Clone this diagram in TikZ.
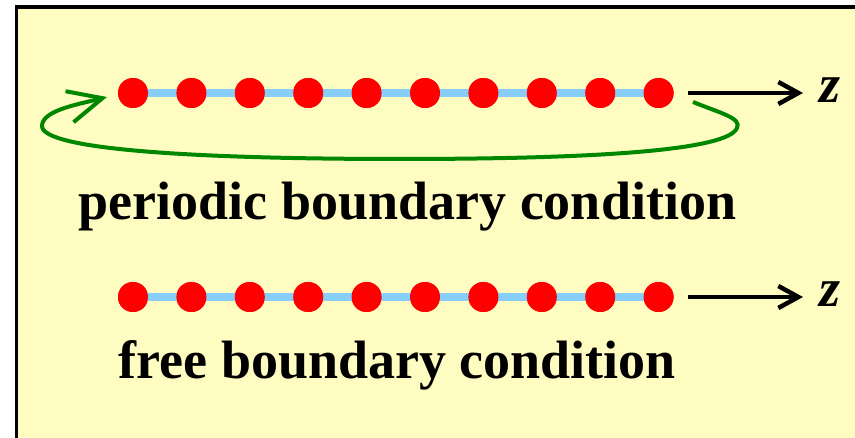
\documentclass[tikz,border=0pt]{standalone}
\usepackage{fontspec}
\setmainfont{Liberation Serif}
\usetikzlibrary{arrows.meta}
\definecolor{paper}{RGB}{255,252,194}
\definecolor{chain}{RGB}{135,206,250}
\definecolor{loopgreen}{RGB}{0,135,0}
\begin{document}
\begin{tikzpicture}[x=1pt,y=-1pt,
  site/.style={circle,fill=red,minimum size=30pt,inner sep=0pt},
  bond/.style={draw=chain,line width=8pt},
  axis/.style={line width=4.5pt,-{Straight Barb[length=20pt,width=22pt]}},
  caption/.style={font=\fontsize{54}{60}\selectfont\bfseries,inner sep=0pt,anchor=base},
  axislabel/.style={font=\fontsize{54}{60}\selectfont\bfseries\itshape,inner sep=0pt,anchor=base west}]
\useasboundingbox (0,0) rectangle (855,438);
% panel background and frame (runs past the right and bottom edges)
\fill[paper] (16.5,7) rectangle (870,450);
\draw[line width=3.5pt] (870,7) -- (16.5,7) -- (16.5,450);

% periodic chain
\foreach \i in {1,...,10}
  \node[site] (t\i) at ({133+58.4*(\i-1)},93) {};
\draw[bond] (t1.center) -- (t10.center);
\foreach \i in {1,...,10}
  \node[site] at (t\i) {};
\coordinate (ta) at (688,93);
\coordinate (tb) at (803,93);
\draw[axis] (ta) -- (tb);
\node[axislabel] (tz) at (819,103) {z};

% wrap-around link from the last site back to the first
\coordinate (lpa) at (693,102);
\coordinate (lpb) at (107,97);
\draw[loopgreen,line width=4pt,-{Straight Barb[length=34pt,width=32pt]}]
  (lpa) .. controls (720,113) and (742,118) .. (737,128)
        .. controls (728,150) and (600,159) .. (400,159)
        .. controls (200,159) and (42,150) .. (42,126)
        .. controls (42,110) and (80,104) .. (lpb);

\node[caption] (pbc) at (407.5,220) {periodic boundary condition};

% open chain
\foreach \i in {1,...,10}
  \node[site] (b\i) at ({133+58.4*(\i-1)},297) {};
\draw[bond] (b1.center) -- (b10.center);
\foreach \i in {1,...,10}
  \node[site] at (b\i) {};
\coordinate (ba) at (688,297);
\coordinate (bb) at (803,297);
\draw[axis] (ba) -- (bb);
\node[axislabel] (bz) at (819,307) {z};

\node[caption] (fbc) at (397.5,379) {free boundary condition};
\end{tikzpicture}
\end{document}
